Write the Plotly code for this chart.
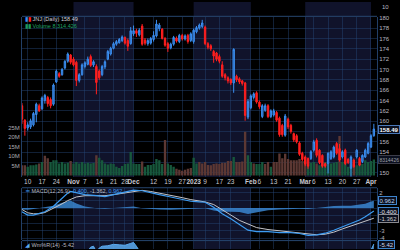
import pandas as pd
import plotly.graph_objects as go

# ---------------- data ----------------
HOLIDAYS = ["2022-11-24", "2022-12-26", "2023-01-02", "2023-01-16", "2023-02-20"]
dates = [d.strftime("%Y-%m-%d") for d in
         pd.bdate_range("2022-10-06", "2023-04-04", freq="C", holidays=HOLIDAYS)]

open_ = [163.0, 160.2, 158.7, 158.9, 159.3, 161.3, 163.0, 162.4, 164.0, 164.6,
         164.2, 163.3, 167.6, 169.2, 169.0, 170.3, 171.6, 172.8, 172.0, 171.4,
         167.9, 169.0, 170.6, 171.0, 172.5, 170.9, 170.6, 169.7, 169.0, 170.5,
         172.0, 173.0, 174.1, 174.9, 175.2, 175.6, 176.2, 175.6, 175.0, 176.9,
         177.5, 176.7, 178.4, 175.7, 175.0, 175.1, 175.8, 176.5, 177.9, 177.8,
         176.0, 175.0, 174.2, 174.9, 176.1, 175.4, 176.6, 175.9, 176.6, 175.6,
         175.4, 177.3, 178.0, 178.3, 178.2, 175.0, 174.6, 173.5, 173.2, 172.5,
         170.9, 169.0, 168.4, 168.1, 167.4, 168.7, 168.2, 167.8, 167.4, 160.8,
         162.6, 164.6, 165.5, 163.7, 160.9, 162.1, 163.0, 160.9, 161.2, 161.7,
         160.6, 159.2, 157.3, 160.4, 159.2, 157.6, 157.2, 155.8, 153.8, 153.1,
         152.8, 152.8, 154.4, 156.3, 154.4, 153.4, 151.8, 151.8, 152.8, 153.1,
         155.7, 154.7, 153.1, 154.4, 152.6, 150.9, 152.5, 153.1, 152.8, 152.2,
         153.1, 153.8, 155.0, 157.2]
high = [163.5, 160.4, 159.8, 160.5, 161.8, 163.6, 163.4, 164.8, 165.3, 164.9,
        164.6, 167.3, 170.0, 169.5, 170.3, 171.8, 173.3, 173.0, 172.4, 171.7,
        169.3, 171.2, 171.6, 172.5, 172.9, 171.8, 171.0, 170.0, 170.9, 171.8,
        173.8, 174.4, 175.3, 175.7, 176.1, 176.6, 176.4, 176.0, 178.2, 178.5,
        177.9, 178.0, 178.8, 176.1, 176.0, 176.3, 177.4, 179.6, 179.0, 178.0,
        176.3, 175.3, 175.2, 176.5, 176.4, 176.9, 176.9, 176.8, 176.9, 177.2,
        177.9, 178.4, 178.9, 179.6, 178.5, 175.3, 174.9, 173.8, 173.4, 172.9,
        171.6, 169.3, 168.7, 168.3, 174.1, 169.0, 168.5, 168.0, 167.6, 164.3,
        165.2, 165.6, 165.8, 164.0, 163.3, 163.4, 163.3, 162.3, 162.4, 162.0,
        160.9, 159.5, 161.4, 160.7, 159.5, 157.8, 157.5, 156.1, 154.1, 153.4,
        153.0, 154.4, 156.4, 156.7, 154.6, 153.6, 152.0, 154.0, 154.4, 155.3,
        156.0, 155.6, 154.4, 154.7, 152.9, 153.4, 152.8, 154.6, 153.1, 153.6,
        154.7, 156.0, 157.5, 159.5]
low = [159.5, 157.2, 158.2, 158.5, 159.0, 159.8, 161.8, 162.2, 163.4, 162.8,
       162.5, 163.0, 167.4, 168.4, 168.8, 170.0, 171.3, 171.0, 170.6, 166.8,
       167.5, 168.8, 170.2, 170.8, 170.5, 170.5, 165.2, 168.0, 168.7, 170.1,
       171.8, 172.7, 173.9, 174.6, 175.0, 175.3, 174.8, 173.6, 174.8, 176.5,
       176.3, 176.4, 174.6, 174.7, 174.6, 174.8, 175.4, 176.2, 177.4, 175.8,
       174.4, 173.4, 173.9, 174.6, 175.2, 175.1, 175.6, 175.6, 175.0, 175.3,
       175.0, 177.0, 177.7, 178.0, 174.7, 173.9, 173.6, 171.3, 171.6, 171.2,
       168.4, 167.9, 167.3, 167.0, 165.5, 167.6, 167.2, 166.9, 160.1, 160.4,
       162.3, 164.2, 163.4, 162.4, 160.6, 161.8, 160.6, 160.6, 160.9, 159.9,
       157.0, 157.0, 157.0, 158.5, 157.6, 156.0, 155.7, 153.3, 152.3, 151.3,
       150.8, 152.5, 154.1, 153.0, 151.7, 151.0, 151.0, 149.9, 152.5, 152.8,
       153.5, 152.2, 152.8, 151.5, 151.7, 149.3, 151.0, 152.8, 151.3, 151.9,
       152.9, 153.6, 154.8, 157.0]
close = [160.4, 158.6, 159.3, 160.1, 161.5, 163.3, 162.0, 164.5, 165.0, 163.4,
         163.0, 167.0, 169.7, 168.7, 170.0, 171.6, 173.0, 171.4, 170.9, 167.9,
         169.0, 170.9, 171.3, 172.0, 170.8, 171.5, 167.5, 168.4, 170.6, 171.5,
         173.5, 174.1, 175.0, 175.4, 175.8, 176.3, 175.1, 174.5, 177.5, 177.5,
         177.0, 177.6, 174.9, 175.1, 175.6, 176.0, 176.6, 178.8, 178.6, 176.0,
         174.7, 174.1, 174.9, 176.2, 175.5, 176.6, 175.9, 176.5, 175.4, 176.9,
         177.6, 178.1, 178.6, 179.0, 175.0, 174.3, 174.0, 172.6, 172.0, 171.6,
         168.7, 168.4, 167.8, 167.4, 173.9, 168.0, 167.6, 167.3, 161.1, 163.8,
         164.9, 165.3, 163.7, 162.8, 163.0, 163.0, 160.9, 162.0, 162.0, 160.2,
         157.4, 157.4, 161.0, 158.9, 158.0, 156.4, 156.0, 153.6, 152.6, 151.7,
         151.3, 154.1, 156.0, 153.4, 152.0, 151.3, 151.3, 153.8, 154.1, 155.0,
         153.8, 152.5, 154.1, 151.8, 152.0, 153.1, 151.2, 154.4, 151.5, 153.4,
         154.4, 155.7, 157.2, 158.49]

volume_m = [5.4, 5.4, 4.6, 5.4, 5.4, 5.8, 6.3, 7.0, 10.3, 9.0,
            7.0, 8.0, 8.0, 6.3, 7.0, 6.3, 6.6, 7.6, 6.3, 7.0,
            6.3, 7.0, 6.3, 6.6, 6.3, 6.5, 10.6, 9.2, 8.0, 6.3,
            5.8, 6.3, 6.0, 4.6, 4.0, 5.0, 6.0, 6.3, 12.3, 6.3,
            6.0, 6.0, 7.3, 4.6, 5.5, 5.5, 6.0, 8.6, 8.0, 6.0,
            18.5, 6.3, 5.5, 4.6, 3.5, 3.0, 2.5, 3.0, 3.5, 4.0,
            9.2, 6.3, 7.0, 6.3, 7.0, 5.5, 5.4, 6.0, 6.3, 6.0,
            6.6, 6.6, 7.6, 7.6, 9.6, 7.0, 7.0, 7.3, 22.7, 10.6,
            7.0, 6.3, 6.0, 6.0, 7.0, 6.0, 7.0, 4.6, 7.0, 7.0,
            11.5, 9.0, 11.3, 8.6, 8.0, 8.0, 8.0, 8.6, 7.6, 8.0,
            6.3, 6.6, 7.0, 6.3, 5.4, 6.3, 7.0, 6.0, 6.3, 6.6,
            7.0, 20.6, 7.0, 6.6, 4.6, 5.4, 6.3, 5.4, 6.3, 6.0,
            8.0, 7.0, 7.6, 8.314426]
volume_dir = ("dduuuududd" "uuuuuuuduu" "uuuuuuduuu" "uuuuuuuuuu"
              "uuduuuuuuu" "duuudddddd" "uudddddddd" "dddduddddu"
              "uduuuddudd" "dddddddddd" "uuuduuuuuu" "uduuuuduuu" "uuuu")

macd_dates = ["2022-10-06", "2022-10-10", "2022-10-12", "2022-10-14", "2022-10-18",
              "2022-10-21", "2022-10-26", "2022-10-28", "2022-10-31", "2022-11-02",
              "2022-11-07", "2022-11-11", "2022-11-16", "2022-11-21", "2022-11-28",
              "2022-12-01", "2022-12-06", "2022-12-09", "2022-12-14", "2022-12-20",
              "2022-12-27", "2022-12-30", "2023-01-05", "2023-01-09", "2023-01-12",
              "2023-01-18", "2023-01-23", "2023-01-26", "2023-01-31", "2023-02-03",
              "2023-02-09", "2023-02-15", "2023-02-22", "2023-02-27", "2023-03-02",
              "2023-03-07", "2023-03-10", "2023-03-15", "2023-03-20", "2023-03-23",
              "2023-03-28", "2023-03-30", "2023-04-03", "2023-04-04"]
macd_line = [-0.5, -0.94, -0.94, -0.77, -0.5, 0.24, 1.25, 2.0, 2.2, 2.04,
             1.78, 1.65, 1.51, 1.78, 2.13, 2.39, 2.3, 2.0, 1.78, 1.47,
             1.16, 0.9, 0.81, 0.77, 0.11, -0.77, -1.43, -2.17, -2.96, -3.14,
             -3.14, -3.27, -3.27, -3.4, -3.66, -3.57, -3.36, -2.96, -2.48, -2.09,
             -1.6, -1.17, -0.64, -0.400]
macd_signal = [-0.2, -0.64, -0.77, -0.77, -0.6, -0.07, 0.55, 0.99, 1.17, 1.47,
               1.64, 1.69, 1.64, 1.78, 2.0, 2.17, 2.35, 2.2, 2.0, 1.69,
               1.38, 1.12, 0.9, 0.81, 0.46, -0.29, -0.94, -1.65, -2.17, -2.61,
               -2.87, -3.05, -3.18, -3.31, -3.49, -3.57, -3.49, -3.22, -2.79, -2.39,
               -2.04, -1.74, -1.47, -1.362]
macd_hist = [-0.2, -0.25, -0.15, 0.0, 0.1, 0.3, 0.7, 0.95, 1.0, 0.6,
             0.2, -0.05, -0.1, 0.0, 0.1, 0.2, -0.05, -0.15, -0.2, -0.25,
             -0.2, -0.2, -0.1, -0.05, -0.35, -0.5, -0.5, -0.55, -0.8, -0.55,
             -0.3, -0.2, -0.1, -0.1, -0.15, 0.0, 0.15, 0.25, 0.3, 0.3,
             0.45, 0.55, 0.85, 0.962]

wr_dates = ["2022-10-06", "2022-10-17", "2022-10-24", "2022-10-28", "2022-11-02",
            "2022-11-07", "2022-11-09", "2022-11-10", "2022-11-11", "2022-11-14",
            "2022-11-15", "2022-11-17", "2022-11-21", "2022-11-23", "2022-11-28",
            "2022-11-30", "2022-12-01", "2022-12-02", "2022-12-06", "2022-12-13",
            "2022-12-16", "2022-12-28", "2023-01-06", "2023-01-12", "2023-01-24",
            "2023-01-30", "2023-02-03", "2023-02-10", "2023-02-17", "2023-02-27",
            "2023-03-06", "2023-03-13", "2023-03-20", "2023-03-27", "2023-03-30",
            "2023-04-03", "2023-04-04"]
wr_values = [-60, -40, -25, -18, -60, -30, -12, -10, -22, -14,
             -10, -9, -6, -7, -8, -4, -2, -10, -30, -18,
             -45, -40, -20, -75, -45, -90, -60, -75, -65, -90,
             -60, -80, -70, -55, -40, -18, -5.42]

tick_dates = ["2022-10-10", "2022-10-17", "2022-10-24", "2022-11-01", "2022-11-07",
              "2022-11-14", "2022-11-21", "2022-11-28", "2022-12-01", "2022-12-12",
              "2022-12-19", "2022-12-27", "2023-01-03", "2023-01-09", "2023-01-17",
              "2023-01-23", "2023-02-01", "2023-02-06", "2023-02-13", "2023-02-21",
              "2023-03-01", "2023-03-06", "2023-03-13", "2023-03-20", "2023-03-27",
              "2023-04-03"]
tick_labels = ["10", "17", "24", "Nov", "7", "14", "21", "28", "Dec", "12", "19", "27",
               "2023", "9", "17", "23", "Feb", "6", "13", "21", "Mar", "6", "13", "20",
               "27", "Apr"]
month_labels = {"Nov", "Dec", "2023", "Feb", "Mar", "Apr"}
shaded_months = [("2022-11-01", "2022-12-01"), ("2023-01-03", "2023-02-01"),
                 ("2023-03-01", "2023-04-03")]

price_ticks = list(range(150, 181, 2))
price_hidden = {152, 158}         # covered by the value boxes
volume_ticks = [5, 10, 15, 20, 25]
macd_ticks = [-4, -3, -2, -1, 0, 1, 2]
macd_hidden = {-2, -1, 0, 1}      # covered by the value boxes

last_close = close[-1]
last_volume_text = "8,314,426"

# ---------------- styling ----------------
FONT = "Liberation Sans, Arial, sans-serif"
W, H = 400, 250
L_PX, R_PX = 22, 23
GRID = "rgba(38,72,120,0.45)"
AXLINE = "#223f66"
BAND = "#10132b"
TXT = "#b4b4bc"

def py(px):
    return 1 - px / H

def pxx(px):
    return (px - L_PX) / (W - L_PX - R_PX)

price_dom = [py(177), py(15)]
macd_dom = [py(241), py(188)]
wr_dom = [0.0, py(242)]

fig = go.Figure()

vol_colors = ["#17583c" if c == "u" else "#5c3833" for c in volume_dir]
fig.add_trace(go.Bar(x=dates, y=[v * 1e6 for v in volume_m], marker_color=vol_colors,
                     marker_line_width=0, width=0.82, xaxis="x", yaxis="y",
                     showlegend=False, hoverinfo="skip"))

fig.add_trace(go.Candlestick(
    x=dates, open=open_, high=high, low=low, close=close, xaxis="x", yaxis="y2",
    increasing=dict(line=dict(color="#3b8ef0", width=1), fillcolor="#2a63b0"),
    decreasing=dict(line=dict(color="#ff1f1f", width=1), fillcolor="#ff1f1f"),
    whiskerwidth=0, showlegend=False, hoverinfo="skip"))

# MACD panel
fig.add_trace(go.Scatter(x=macd_dates, y=macd_hist, xaxis="x2", yaxis="y3", mode="lines",
                         line=dict(width=0, color="#3a86d0"), fill="tozeroy",
                         fillcolor="rgba(58,134,208,0.85)", showlegend=False, hoverinfo="skip"))
fig.add_trace(go.Scatter(x=macd_dates, y=macd_signal, xaxis="x2", yaxis="y3", mode="lines",
                         line=dict(width=1, color="#c4c4c8"), showlegend=False, hoverinfo="skip"))
fig.add_trace(go.Scatter(x=macd_dates, y=macd_line, xaxis="x2", yaxis="y3", mode="lines",
                         line=dict(width=1.2, color="#3d9cf2"), showlegend=False, hoverinfo="skip"))

# Williams %R panel
fig.add_trace(go.Scatter(x=wr_dates, y=[-100] * len(wr_dates), xaxis="x3", yaxis="y4",
                         mode="lines", line=dict(width=0), showlegend=False, hoverinfo="skip"))
fig.add_trace(go.Scatter(x=wr_dates, y=wr_values, xaxis="x3", yaxis="y4", mode="lines",
                         line=dict(width=1, color="#5aaaf0"), fill="tonexty",
                         fillcolor="rgba(90,170,240,0.85)", showlegend=False, hoverinfo="skip"))

ticktext = [f"<b>{t}</b>" if t in month_labels else t for t in tick_labels]
x_common = dict(type="category", categoryorder="array", categoryarray=dates,
                range=[0.0, len(dates) + 0.1], tickvals=tick_dates, showgrid=True,
                gridcolor=GRID, gridwidth=1, zeroline=False, ticks="", showline=False,
                fixedrange=True, tickangle=0)

fig.update_layout(
    width=W, height=H, margin=dict(l=L_PX, r=R_PX, t=0, b=0),
    paper_bgcolor="#000000", plot_bgcolor="#000000",
    font=dict(family=FONT, size=6, color=TXT),
    showlegend=False,
    xaxis=dict(**x_common, anchor="y", domain=[0, 1], ticktext=ticktext,
               tickfont=dict(size=6.5, color="#c8c8d0"), rangeslider=dict(visible=False)),
    yaxis=dict(domain=price_dom, anchor="x", side="left", range=[-0.67e6, 82.4e6],
               tickvals=[v * 1e6 for v in volume_ticks], ticktext=[f"{v}M" for v in volume_ticks],
               showgrid=False, zeroline=False, ticks="", showline=True, linecolor=AXLINE,
               tickfont=dict(size=6, color="#a8a8b0")),
    yaxis2=dict(overlaying="y", anchor="x", side="right", range=[149.24, 180.19],
                tickvals=price_ticks,
                ticktext=["" if t in price_hidden else str(t) for t in price_ticks],
                showgrid=True, gridcolor=GRID, zeroline=False,
                ticks="", showline=True, linecolor=AXLINE,
                tickfont=dict(size=6, color="#b8b8c0")),
    xaxis2=dict(**x_common, anchor="y3", domain=[0, 1], matches="x", showticklabels=False),
    yaxis3=dict(domain=macd_dom, anchor="x2", side="right", range=[-4.28, 2.70],
                tickvals=macd_ticks,
                ticktext=["" if t in macd_hidden else str(t) for t in macd_ticks],
                showgrid=True, gridcolor=GRID, zeroline=False,
                ticks="", showline=True, linecolor=AXLINE, mirror=True,
                tickfont=dict(size=6, color="#b8b8c0")),
    xaxis3=dict(**x_common, anchor="y4", domain=[0, 1], matches="x", showticklabels=False),
    yaxis4=dict(domain=wr_dom, anchor="x3", side="right", range=[-16, 1],
                showticklabels=False, showgrid=False, zeroline=False, showline=True,
                linecolor=AXLINE, mirror=True),
)

# month shading bands
shapes = []
for a, b in shaded_months:
    x0, x1 = dates.index(a), dates.index(b)
    for y0, y1 in [(price_dom[0], 1.0), (0.0, macd_dom[1])]:
        shapes.append(dict(type="rect", xref="x", yref="paper", x0=x0, x1=x1, y0=y0, y1=y1,
                           fillcolor=BAND, line=dict(width=0), layer="below"))
# panel separators
for ypx in [14.5, 188, 241.5]:
    shapes.append(dict(type="line", xref="paper", yref="paper", x0=0, x1=1, y0=py(ypx),
                       y1=py(ypx), line=dict(color="#26466f", width=1)))
fig.update_layout(shapes=shapes)

ann = []
# top cut-off label
ann.append(dict(xref="paper", yref="paper", x=1.0, y=py(5), xanchor="left", yanchor="middle",
                xshift=3, text="10", showarrow=False, font=dict(size=6, color="#b8b8c0")))
# legends
ann.append(dict(xref="paper", yref="paper", x=pxx(23), y=py(17.5), xanchor="left",
                yanchor="middle", showarrow=False,
                text=f"<span style='color:#3b8ef0'>▮</span><span style='color:#ff2020'>▮</span> "
                     f"JNJ (Daily) {last_close:.2f}",
                font=dict(size=5.5, color="#d0d0d8")))
ann.append(dict(xref="paper", yref="paper", x=pxx(23), y=py(24.5), xanchor="left",
                yanchor="middle", showarrow=False,
                text=f"<span style='color:#1e9a5a'>▮▮</span> Volume {last_volume_text}",
                font=dict(size=5.5, color="#1fa362")))
ann.append(dict(xref="paper", yref="paper", x=pxx(23), y=py(191.5), xanchor="left",
                yanchor="middle", showarrow=False,
                text="<span style='color:#3d9cf2'>━</span> MACD(12,26,9) "
                     f"<span style='color:#3d9cf2'>{macd_line[-1]:.3f}</span>, "
                     f"<span style='color:#c4c4c8'>{macd_signal[-1]:.3f}</span>, "
                     f"<span style='color:#3d9cf2'>{macd_hist[-1]:.3f}</span>",
                font=dict(size=5.5, color="#b8b8c0")))
ann.append(dict(xref="paper", yref="paper", x=pxx(23), y=py(245.5), xanchor="left",
                yanchor="middle", showarrow=False,
                text=f"<span style='color:#5aaaf0'>◢</span> Wm%R(14) {wr_values[-1]:.2f}",
                font=dict(size=5.5, color="#b8b8c0")))

# right side value boxes
def box(yref, yval, text, color, border, bold=False, size=6):
    t = f"<b>{text}</b>" if bold else text
    return dict(xref="paper", yref=yref, x=1.0, y=yval, xanchor="left", yanchor="middle",
                xshift=1, text=t, showarrow=False, font=dict(size=size, color=color),
                bgcolor="#0a0f1e", bordercolor=border, borderwidth=1, borderpad=0.5)

ann.append(box("y2", last_close, f"{last_close:.2f}", "#ffffff", "#4a78b8", bold=True))
ann.append(box("y", volume_m[-1] * 1e6, "8314426", "#a0a0a8", "#3c3c48", size=5))
ann.append(box("y3", macd_hist[-1], f"{macd_hist[-1]:.3f}", "#bcd8f4", "#3d84cc"))
ann.append(box("y3", macd_line[-1], f"{macd_line[-1]:.3f}", "#e0e0e8", "#3d84cc"))
ann.append(box("y3", macd_signal[-1], f"{macd_signal[-1]:.3f}", "#d0d0d0", "#8a8a90"))
ann.append(box("y4", wr_values[-1], f"{wr_values[-1]:.2f}", "#d0d8e8", "#3d84cc"))
fig.update_layout(annotations=ann)

fig.write_html("out.html")
